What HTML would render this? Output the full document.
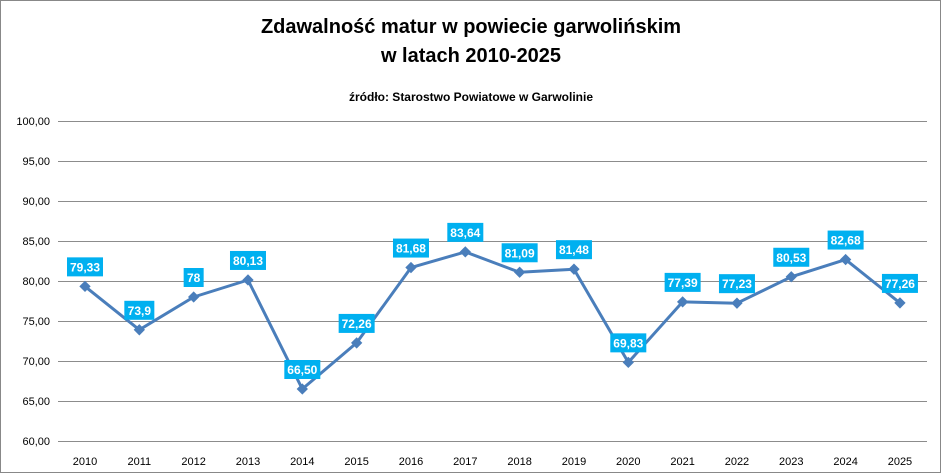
<!DOCTYPE html>
<html><head><meta charset="utf-8"><style>
html,body{margin:0;padding:0;background:#fff}
svg{display:block;font-family:"Liberation Sans",Arial,sans-serif}
</style></head><body>
<svg width="942" height="475" viewBox="0 0 942 475">
<rect x="0.5" y="0.5" width="940" height="472" fill="#fff" stroke="#888" stroke-width="1"/>
<text x="471" y="33" text-anchor="middle" font-size="20" font-weight="bold" fill="#000">Zdawalność matur w powiecie garwolińskim</text>
<text x="471" y="62" text-anchor="middle" font-size="20" font-weight="bold" fill="#000">w latach 2010-2025</text>
<text x="471" y="101" text-anchor="middle" font-size="12" font-weight="bold" fill="#000">źródło: Starostwo Powiatowe w Garwolinie</text>
<g stroke="#8c8c8c" stroke-width="1">
<line x1="58" x2="927" y1="121.5" y2="121.5"/>
<line x1="58" x2="927" y1="161.5" y2="161.5"/>
<line x1="58" x2="927" y1="201.5" y2="201.5"/>
<line x1="58" x2="927" y1="241.5" y2="241.5"/>
<line x1="58" x2="927" y1="281.5" y2="281.5"/>
<line x1="58" x2="927" y1="321.5" y2="321.5"/>
<line x1="58" x2="927" y1="361.5" y2="361.5"/>
<line x1="58" x2="927" y1="401.5" y2="401.5"/>
<line x1="58" x2="927" y1="441.5" y2="441.5"/>
</g>
<g font-size="11" fill="#000" text-anchor="end">
<text x="50" y="125">100,00</text><text x="50" y="165">95,00</text><text x="50" y="205">90,00</text>
<text x="50" y="245">85,00</text><text x="50" y="285">80,00</text><text x="50" y="325">75,00</text>
<text x="50" y="365">70,00</text><text x="50" y="405">65,00</text><text x="50" y="445">60,00</text>
</g>
<g id="ch"></g>
</svg>
<script>
var v=[79.33,73.9,78,80.13,66.5,72.26,81.68,83.64,81.09,81.48,69.83,77.39,77.23,80.53,82.68,77.26];
var l=["79,33","73,9","78","80,13","66,50","72,26","81,68","83,64","81,09","81,48","69,83","77,39","77,23","80,53","82,68","77,26"];
var g=document.getElementById('ch'),ns="http://www.w3.org/2000/svg",s="",pts=[];
for(var i=0;i<16;i++){var x=85+i*54.33,y=441-(v[i]-60)*8;pts.push(x.toFixed(1)+","+y.toFixed(1));
s+='<text x="'+x+'" y="465" font-size="11" text-anchor="middle">'+(2010+i)+'</text>';}
s+='<polyline points="'+pts.join(" ")+'" fill="none" stroke="#4a7ebb" stroke-width="3" stroke-linejoin="round"/>';
for(var i=0;i<16;i++){var x=85+i*54.33,y=441-(v[i]-60)*8;
s+='<rect x="'+(x-4)+'" y="'+(y-4)+'" width="8" height="8" fill="#4a7ebb" transform="rotate(45 '+x+' '+y+')"/>';
var w=l[i].length==2?20:(l[i].length==4?30:36);
s+='<rect x="'+(x-w/2)+'" y="'+(y-29)+'" width="'+w+'" height="19" fill="#00b0f0"/>';
s+='<text x="'+x+'" y="'+(y-15)+'" font-size="12" font-weight="bold" fill="#fff" text-anchor="middle">'+l[i]+'</text>';}
g.innerHTML=s;
</script>
</body></html>
